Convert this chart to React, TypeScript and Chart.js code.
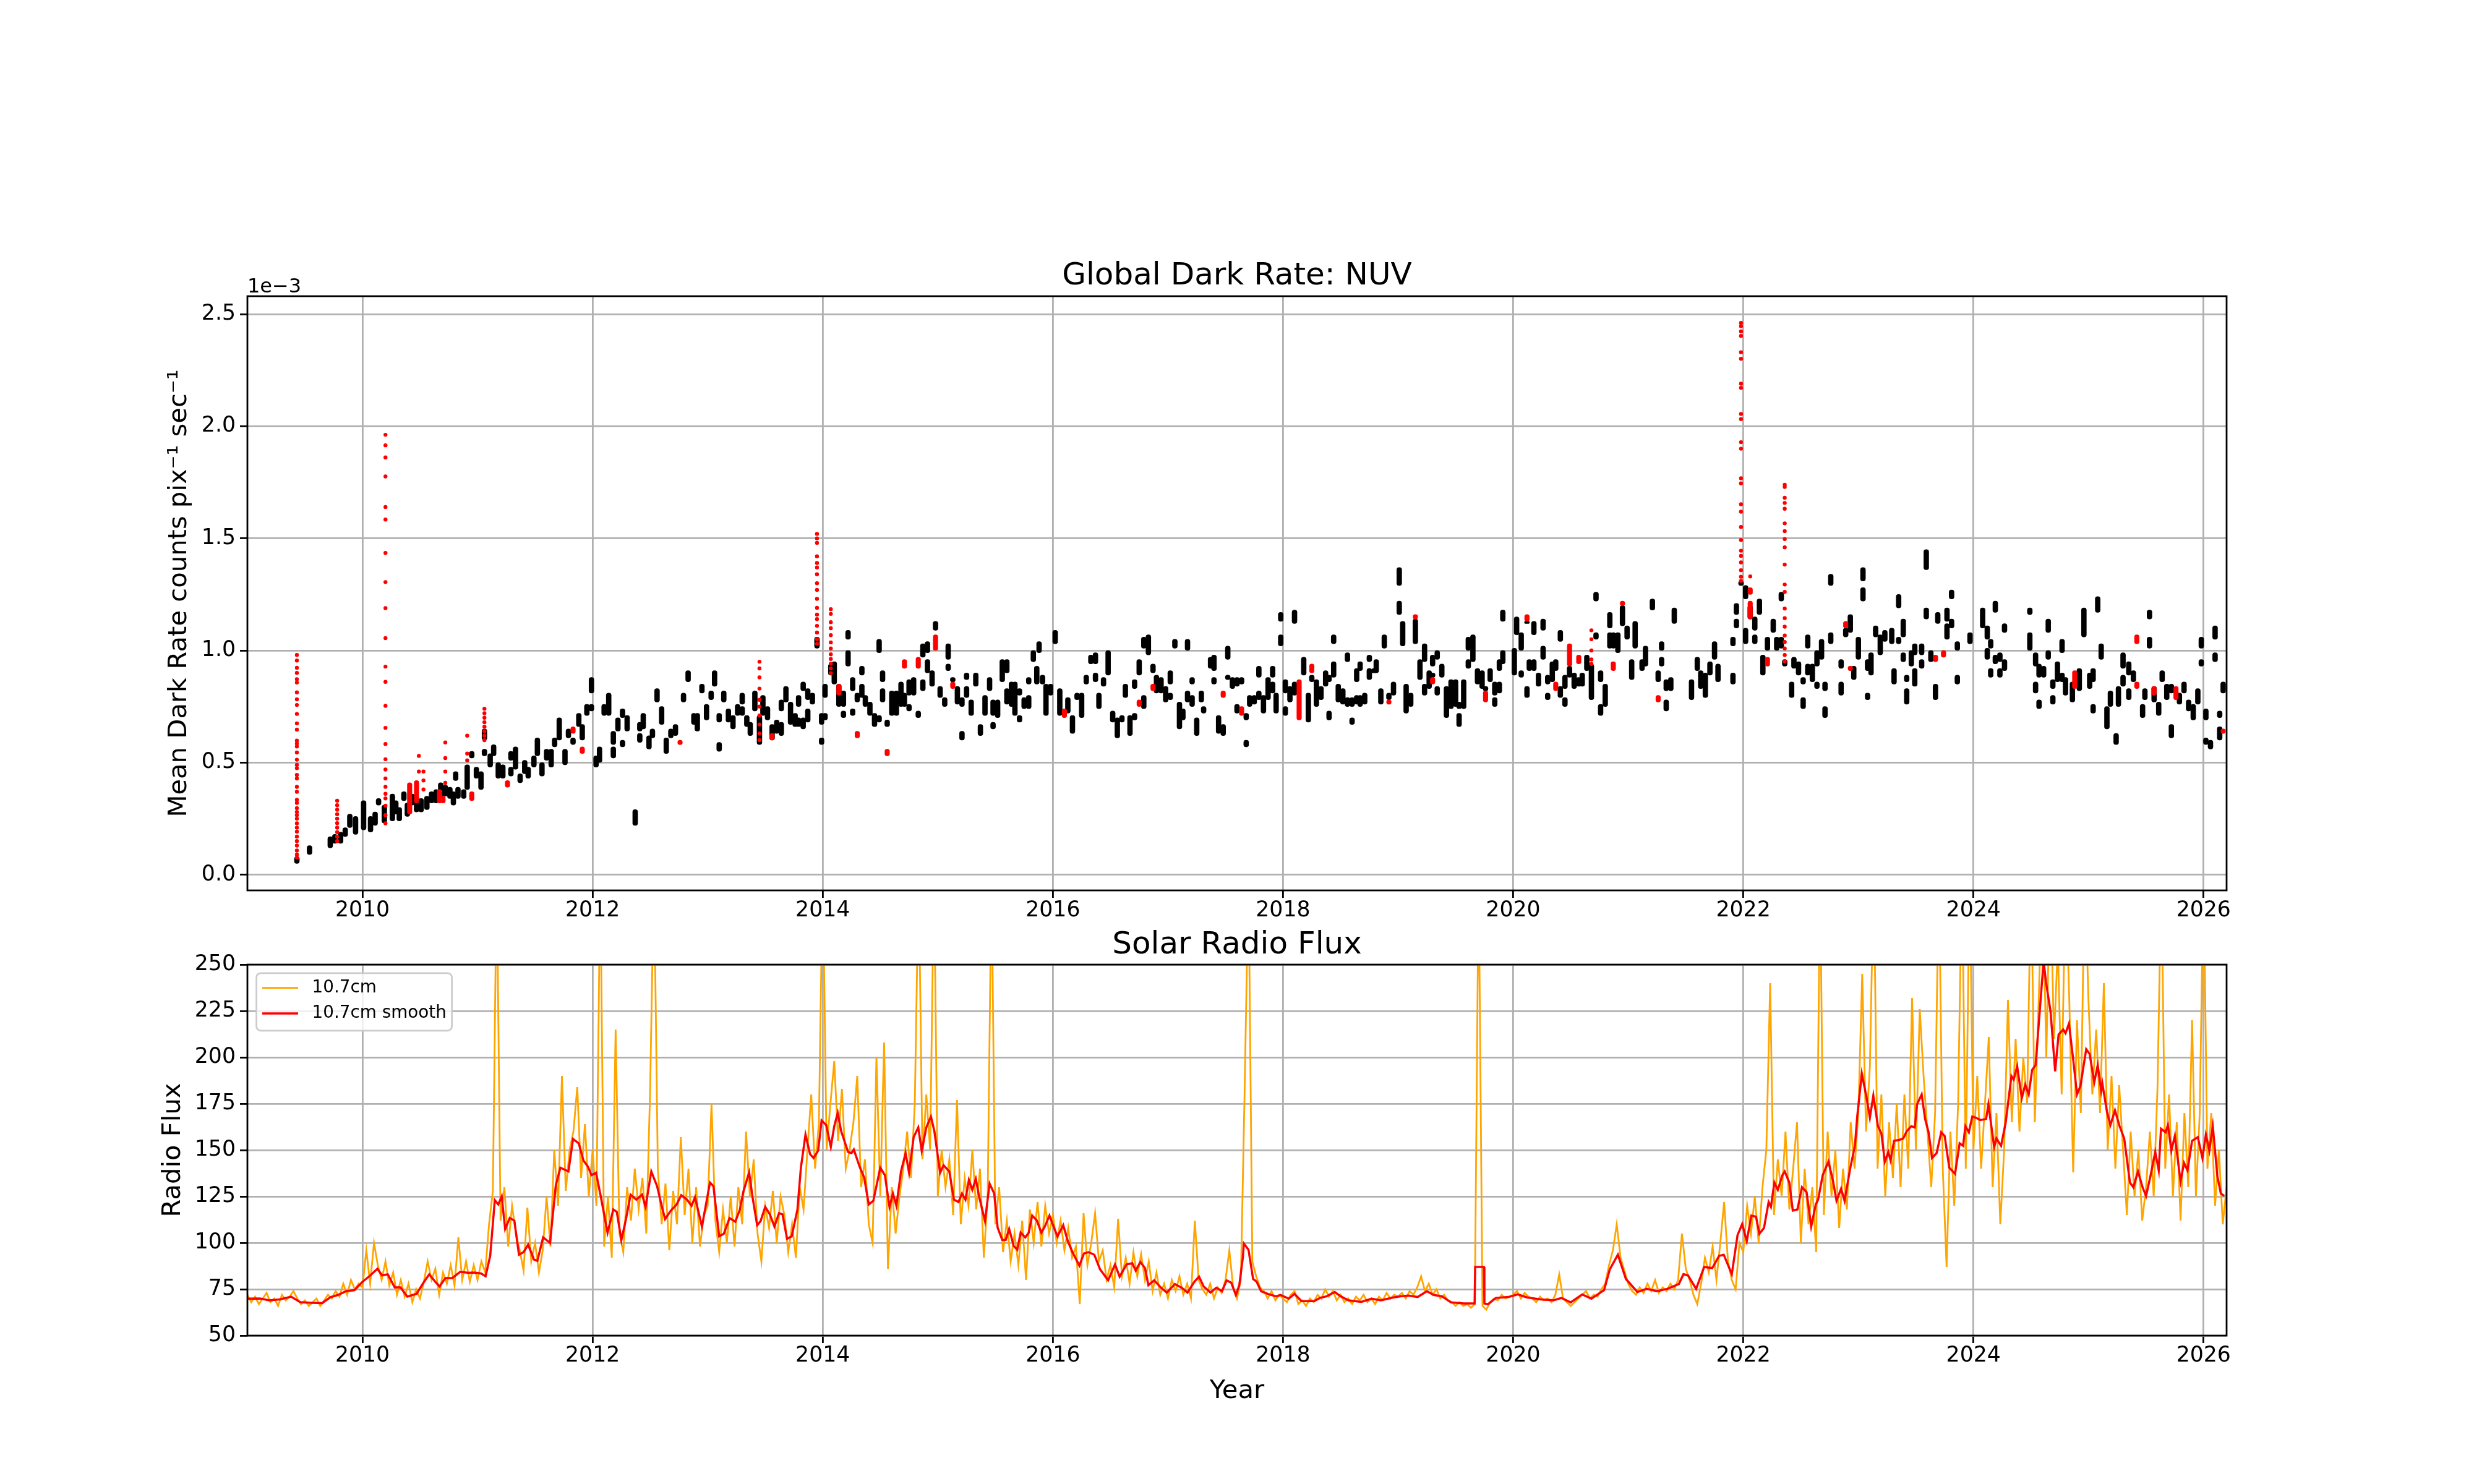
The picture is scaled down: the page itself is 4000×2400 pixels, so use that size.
import React, { useEffect, useRef } from 'react';
import { Chart, registerables } from 'chart.js';

Chart.register(...registerables);

Chart.defaults.font.family = "'DejaVu Sans', sans-serif";
Chart.defaults.color = '#000';

const yearTicks = [2010, 2012, 2014, 2016, 2018, 2020, 2022, 2024, 2026];
const darkTicks = [0, 0.5, 1.0, 1.5, 2.0, 2.5];
const fluxTicks = [50, 75, 100, 125, 150, 175, 200, 225, 250];

// dark rate in units of 1e-3: [decimal year, low, high] of each group of exposures
const darkClusters: [number, number, number][] = [
  [2009.43, 0.05, 0.08], [2009.54, 0.09, 0.13], [2009.72, 0.12, 0.17], [2009.76, 0.14, 0.18],
  [2009.81, 0.14, 0.19], [2009.85, 0.17, 0.21], [2009.89, 0.21, 0.27], [2009.94, 0.18, 0.26],
  [2010.01, 0.20, 0.33], [2010.07, 0.19, 0.26], [2010.11, 0.22, 0.28], [2010.14, 0.31, 0.34],
  [2010.19, 0.23, 0.31], [2010.26, 0.24, 0.36], [2010.29, 0.27, 0.33], [2010.32, 0.24, 0.30],
  [2010.36, 0.33, 0.37], [2010.39, 0.26, 0.32], [2010.43, 0.31, 0.36], [2010.47, 0.28, 0.35],
  [2010.51, 0.28, 0.34], [2010.56, 0.29, 0.35], [2010.60, 0.32, 0.37], [2010.64, 0.32, 0.38],
  [2010.68, 0.34, 0.41], [2010.72, 0.35, 0.40], [2010.76, 0.34, 0.39], [2010.79, 0.31, 0.37],
  [2010.81, 0.42, 0.46], [2010.83, 0.34, 0.39], [2010.88, 0.34, 0.38], [2010.91, 0.38, 0.49],
  [2010.95, 0.52, 0.55], [2010.99, 0.43, 0.48], [2011.03, 0.38, 0.46], [2011.06, 0.60, 0.65],
  [2011.06, 0.53, 0.56], [2011.11, 0.48, 0.54], [2011.14, 0.53, 0.58], [2011.18, 0.43, 0.50],
  [2011.22, 0.43, 0.49], [2011.29, 0.51, 0.55], [2011.29, 0.44, 0.48], [2011.33, 0.47, 0.57],
  [2011.37, 0.41, 0.45], [2011.41, 0.45, 0.51], [2011.44, 0.43, 0.48], [2011.49, 0.48, 0.53],
  [2011.52, 0.53, 0.61], [2011.56, 0.44, 0.50], [2011.60, 0.51, 0.56], [2011.64, 0.48, 0.56],
  [2011.67, 0.57, 0.61], [2011.71, 0.60, 0.70], [2011.76, 0.49, 0.56], [2011.79, 0.61, 0.65],
  [2011.83, 0.58, 0.61], [2011.88, 0.66, 0.72], [2011.91, 0.60, 0.67], [2011.95, 0.71, 0.76],
  [2011.99, 0.81, 0.88], [2011.99, 0.73, 0.76], [2012.03, 0.48, 0.53], [2012.06, 0.50, 0.57],
  [2012.10, 0.71, 0.76], [2012.14, 0.71, 0.81], [2012.18, 0.58, 0.64], [2012.18, 0.52, 0.57],
  [2012.22, 0.64, 0.70], [2012.26, 0.70, 0.74], [2012.26, 0.57, 0.60], [2012.30, 0.64, 0.71],
  [2012.37, 0.22, 0.29], [2012.41, 0.64, 0.68], [2012.41, 0.59, 0.63], [2012.44, 0.65, 0.72],
  [2012.49, 0.56, 0.62], [2012.52, 0.61, 0.65], [2012.56, 0.77, 0.83], [2012.60, 0.67, 0.75],
  [2012.64, 0.54, 0.61], [2012.68, 0.61, 0.65], [2012.72, 0.62, 0.67], [2012.79, 0.77, 0.81],
  [2012.83, 0.86, 0.91], [2012.88, 0.67, 0.72], [2012.91, 0.64, 0.72], [2012.95, 0.81, 0.85],
  [2012.99, 0.69, 0.76], [2013.03, 0.78, 0.82], [2013.06, 0.84, 0.91], [2013.10, 0.55, 0.59],
  [2013.10, 0.68, 0.72], [2013.14, 0.77, 0.82], [2013.18, 0.68, 0.74], [2013.22, 0.65, 0.71],
  [2013.26, 0.71, 0.76], [2013.30, 0.76, 0.81], [2013.30, 0.71, 0.75], [2013.34, 0.66, 0.71],
  [2013.37, 0.62, 0.68], [2013.41, 0.73, 0.82], [2013.45, 0.58, 0.71], [2013.48, 0.71, 0.80],
  [2013.52, 0.69, 0.75], [2013.56, 0.60, 0.67], [2013.60, 0.63, 0.69], [2013.64, 0.73, 0.78],
  [2013.64, 0.62, 0.68], [2013.68, 0.77, 0.84], [2013.72, 0.67, 0.77], [2013.76, 0.66, 0.72],
  [2013.79, 0.75, 0.80], [2013.79, 0.66, 0.70], [2013.83, 0.82, 0.86], [2013.83, 0.65, 0.70],
  [2013.87, 0.78, 0.83], [2013.87, 0.68, 0.74], [2013.91, 0.76, 0.81], [2013.95, 1.01, 1.06],
  [2013.99, 0.67, 0.72], [2013.99, 0.58, 0.61], [2014.02, 0.79, 0.85], [2014.02, 0.69, 0.72],
  [2014.07, 0.89, 0.94], [2014.10, 0.85, 0.95], [2014.14, 0.75, 0.85], [2014.18, 0.75, 0.82],
  [2014.18, 0.70, 0.73], [2014.22, 1.05, 1.09], [2014.22, 0.93, 1.00], [2014.26, 0.82, 0.88],
  [2014.26, 0.71, 0.74], [2014.30, 0.77, 0.81], [2014.34, 0.89, 0.93], [2014.34, 0.79, 0.85],
  [2014.37, 0.75, 0.80], [2014.41, 0.71, 0.77], [2014.45, 0.66, 0.72], [2014.49, 0.68, 0.71],
  [2014.49, 0.99, 1.05], [2014.52, 0.86, 0.91], [2014.52, 0.77, 0.83], [2014.56, 0.66, 0.69],
  [2014.60, 0.71, 0.82], [2014.64, 0.71, 0.82], [2014.68, 0.75, 0.86], [2014.71, 0.75, 0.81],
  [2014.75, 0.80, 0.87], [2014.75, 0.73, 0.76], [2014.79, 0.80, 0.88], [2014.83, 0.70, 0.73],
  [2014.87, 0.97, 1.03], [2014.87, 0.82, 0.87], [2014.91, 0.99, 1.04], [2014.91, 0.90, 0.96],
  [2014.95, 0.84, 0.91], [2014.98, 1.09, 1.13], [2015.02, 0.79, 0.84], [2015.06, 0.75, 0.79],
  [2015.09, 0.96, 1.03], [2015.09, 0.91, 0.94], [2015.13, 0.86, 0.88], [2015.17, 0.76, 0.84],
  [2015.21, 0.75, 0.79], [2015.21, 0.60, 0.64], [2015.25, 0.87, 0.90], [2015.25, 0.79, 0.84],
  [2015.29, 0.71, 0.78], [2015.33, 0.84, 0.90], [2015.37, 0.62, 0.67], [2015.41, 0.71, 0.80],
  [2015.45, 0.82, 0.88], [2015.48, 0.71, 0.78], [2015.48, 0.65, 0.68], [2015.52, 0.70, 0.78],
  [2015.56, 0.86, 0.96], [2015.60, 0.90, 0.96], [2015.60, 0.76, 0.83], [2015.64, 0.75, 0.86],
  [2015.67, 0.71, 0.86], [2015.71, 0.80, 0.83], [2015.71, 0.68, 0.71], [2015.75, 0.74, 0.79],
  [2015.79, 0.85, 0.88], [2015.79, 0.74, 0.80], [2015.83, 0.95, 1.00], [2015.86, 0.85, 0.93],
  [2015.88, 0.99, 1.04], [2015.91, 0.85, 0.89], [2015.94, 0.71, 0.85], [2015.98, 0.80, 0.85],
  [2016.02, 1.03, 1.09], [2016.06, 0.71, 0.83], [2016.13, 0.72, 0.79], [2016.17, 0.63, 0.71],
  [2016.21, 0.78, 0.81], [2016.25, 0.70, 0.81], [2016.29, 0.85, 0.89], [2016.33, 0.94, 0.98],
  [2016.37, 0.94, 0.99], [2016.37, 0.86, 0.90], [2016.40, 0.74, 0.81], [2016.44, 0.84, 0.88],
  [2016.48, 0.89, 1.00], [2016.52, 0.68, 0.73], [2016.56, 0.61, 0.70], [2016.60, 0.68, 0.71],
  [2016.63, 0.79, 0.85], [2016.67, 0.62, 0.71], [2016.71, 0.83, 0.87], [2016.71, 0.69, 0.72],
  [2016.75, 0.89, 0.96], [2016.79, 1.01, 1.06], [2016.79, 0.74, 0.80], [2016.83, 0.98, 1.07],
  [2016.87, 0.90, 0.94], [2016.90, 0.81, 0.89], [2016.94, 0.81, 0.88], [2016.98, 0.77, 0.84],
  [2017.02, 0.85, 0.91], [2017.02, 0.78, 0.81], [2017.06, 1.01, 1.05], [2017.10, 0.65, 0.77],
  [2017.13, 0.69, 0.74], [2017.17, 1.00, 1.05], [2017.17, 0.77, 0.82], [2017.21, 0.85, 0.88],
  [2017.21, 0.75, 0.80], [2017.25, 0.62, 0.70], [2017.29, 0.77, 0.82], [2017.31, 0.72, 0.75],
  [2017.37, 0.92, 0.97], [2017.40, 0.91, 0.98], [2017.40, 0.85, 0.88], [2017.44, 0.63, 0.71],
  [2017.48, 0.62, 0.67], [2017.52, 0.96, 1.02], [2017.52, 0.87, 0.89], [2017.56, 0.83, 0.88],
  [2017.60, 0.84, 0.88], [2017.60, 0.72, 0.76], [2017.64, 0.85, 0.88], [2017.68, 0.69, 0.72],
  [2017.68, 0.57, 0.60], [2017.71, 0.75, 0.80], [2017.75, 0.76, 0.80], [2017.79, 0.88, 0.93],
  [2017.79, 0.78, 0.82], [2017.83, 0.72, 0.80], [2017.87, 0.78, 0.88], [2017.91, 0.88, 0.93],
  [2017.91, 0.81, 0.86], [2017.94, 0.72, 0.81], [2017.98, 1.13, 1.17], [2017.98, 1.02, 1.07],
  [2018.02, 0.81, 0.87], [2018.02, 0.71, 0.75], [2018.06, 0.77, 0.84], [2018.10, 1.12, 1.18],
  [2018.10, 0.80, 0.86], [2018.18, 0.89, 0.97], [2018.22, 0.68, 0.81], [2018.25, 0.86, 0.89],
  [2018.29, 0.75, 0.87], [2018.33, 0.78, 0.84], [2018.37, 0.84, 0.91], [2018.40, 0.69, 0.73],
  [2018.40, 0.86, 0.89], [2018.44, 1.03, 1.07], [2018.44, 0.88, 0.95], [2018.48, 0.77, 0.85],
  [2018.52, 0.76, 0.83], [2018.56, 0.95, 0.99], [2018.56, 0.75, 0.79], [2018.60, 0.67, 0.70],
  [2018.60, 0.75, 0.79], [2018.64, 0.86, 0.92], [2018.64, 0.76, 0.80], [2018.67, 0.91, 0.95],
  [2018.67, 0.75, 0.80], [2018.71, 0.76, 0.81], [2018.75, 0.95, 0.98], [2018.75, 0.87, 0.92],
  [2018.79, 0.90, 0.92], [2018.81, 0.90, 0.96], [2018.85, 0.76, 0.83], [2018.88, 1.01, 1.07],
  [2018.92, 0.78, 0.81], [2018.96, 0.80, 0.86], [2019.01, 1.29, 1.37], [2019.01, 1.16, 1.22],
  [2019.04, 1.02, 1.13], [2019.07, 0.72, 0.85], [2019.11, 0.75, 0.81], [2019.15, 1.03, 1.14],
  [2019.19, 0.87, 0.96], [2019.23, 0.95, 1.03], [2019.23, 0.80, 0.85], [2019.27, 0.83, 0.91],
  [2019.30, 0.93, 0.98], [2019.30, 0.88, 0.90], [2019.34, 0.96, 1.00], [2019.34, 0.80, 0.84],
  [2019.38, 0.88, 0.94], [2019.42, 0.70, 0.84], [2019.46, 0.74, 0.87], [2019.50, 0.75, 0.87],
  [2019.53, 0.66, 0.72], [2019.53, 0.74, 0.77], [2019.57, 0.74, 0.87], [2019.61, 1.00, 1.06],
  [2019.61, 0.92, 0.96], [2019.65, 0.95, 1.07], [2019.69, 0.85, 0.92], [2019.73, 0.83, 0.91],
  [2019.76, 0.82, 0.84], [2019.80, 0.86, 0.92], [2019.84, 0.75, 0.79], [2019.84, 0.80, 0.86],
  [2019.88, 0.81, 0.86], [2019.88, 0.91, 0.96], [2019.91, 1.13, 1.18], [2019.91, 0.94, 1.00],
  [2020.01, 0.89, 1.01], [2020.03, 1.07, 1.15], [2020.07, 1.00, 1.08], [2020.07, 0.88, 0.91],
  [2020.12, 1.12, 1.13], [2020.12, 0.79, 0.84], [2020.14, 0.91, 0.96], [2020.18, 1.07, 1.13],
  [2020.18, 0.91, 0.96], [2020.22, 0.84, 0.90], [2020.26, 1.09, 1.14], [2020.26, 0.96, 1.02],
  [2020.30, 0.85, 0.89], [2020.30, 0.78, 0.81], [2020.34, 0.86, 0.95], [2020.37, 0.91, 0.96],
  [2020.41, 1.04, 1.09], [2020.41, 0.79, 0.84], [2020.45, 0.83, 0.89], [2020.45, 0.75, 0.79],
  [2020.49, 0.88, 0.93], [2020.53, 0.83, 0.90], [2020.57, 0.84, 0.88], [2020.60, 0.84, 0.90],
  [2020.64, 0.91, 0.98], [2020.68, 0.78, 0.94], [2020.72, 1.05, 1.08], [2020.72, 1.22, 1.26],
  [2020.76, 0.86, 0.91], [2020.76, 0.71, 0.76], [2020.80, 0.75, 0.85], [2020.84, 1.10, 1.17],
  [2020.84, 1.01, 1.08], [2020.87, 1.01, 1.08], [2020.91, 0.99, 1.08], [2020.95, 1.11, 1.20],
  [2020.99, 1.05, 1.11], [2021.03, 0.87, 0.96], [2021.06, 1.01, 1.13], [2021.12, 0.91, 0.96],
  [2021.15, 0.93, 1.02], [2021.21, 1.18, 1.23], [2021.26, 0.86, 0.91], [2021.29, 1.00, 1.04],
  [2021.29, 0.93, 0.97], [2021.33, 0.73, 0.78], [2021.33, 0.82, 0.87], [2021.37, 0.82, 0.88],
  [2021.40, 1.12, 1.19], [2021.55, 0.78, 0.87], [2021.60, 0.91, 0.97], [2021.63, 0.83, 0.91],
  [2021.67, 0.79, 0.90], [2021.71, 0.89, 0.95], [2021.75, 0.96, 1.04], [2021.78, 0.86, 0.94],
  [2021.91, 1.02, 1.06], [2021.91, 0.85, 0.90], [2021.94, 1.16, 1.21], [2021.94, 1.10, 1.14],
  [2021.98, 1.29, 1.31], [2022.02, 1.23, 1.29], [2022.02, 1.03, 1.10], [2022.06, 1.14, 1.20],
  [2022.10, 1.09, 1.15], [2022.10, 1.03, 1.07], [2022.14, 1.16, 1.23], [2022.17, 0.89, 0.98],
  [2022.21, 1.00, 1.06], [2022.26, 1.08, 1.14], [2022.29, 1.00, 1.06], [2022.33, 1.22, 1.26],
  [2022.33, 1.01, 1.06], [2022.36, 0.93, 0.96], [2022.42, 0.79, 0.86], [2022.44, 0.92, 0.97],
  [2022.48, 0.89, 0.95], [2022.52, 0.85, 0.88], [2022.52, 0.74, 0.79], [2022.56, 1.01, 1.07],
  [2022.56, 0.89, 0.94], [2022.60, 0.86, 0.94], [2022.64, 0.83, 0.86], [2022.64, 0.93, 1.00],
  [2022.68, 0.96, 1.05], [2022.71, 0.82, 0.86], [2022.71, 0.70, 0.75], [2022.76, 1.29, 1.34],
  [2022.76, 1.03, 1.08], [2022.85, 0.92, 0.96], [2022.85, 0.80, 0.86], [2022.89, 1.06, 1.10],
  [2022.93, 1.08, 1.16], [2022.96, 0.87, 0.93], [2023.00, 0.96, 1.06], [2023.04, 1.31, 1.37],
  [2023.04, 1.22, 1.28], [2023.08, 0.91, 0.96], [2023.08, 0.78, 0.81], [2023.11, 0.89, 0.99],
  [2023.15, 1.06, 1.11], [2023.19, 0.98, 1.07], [2023.23, 1.04, 1.09], [2023.29, 1.03, 1.10],
  [2023.31, 0.85, 0.92], [2023.35, 1.19, 1.25], [2023.35, 1.03, 1.06], [2023.39, 1.06, 1.14],
  [2023.39, 0.95, 0.99], [2023.42, 0.86, 0.89], [2023.42, 0.76, 0.83], [2023.46, 0.93, 1.00],
  [2023.49, 0.98, 1.03], [2023.49, 0.84, 0.92], [2023.55, 0.98, 1.03], [2023.55, 0.92, 0.96],
  [2023.59, 1.36, 1.45], [2023.59, 1.14, 1.19], [2023.63, 0.95, 1.00], [2023.67, 0.78, 0.85],
  [2023.69, 1.12, 1.17], [2023.77, 1.13, 1.19], [2023.77, 1.05, 1.12], [2023.81, 1.23, 1.27],
  [2023.81, 1.10, 1.14], [2023.86, 1.00, 1.04], [2023.86, 0.85, 0.89], [2023.97, 1.03, 1.08],
  [2024.08, 1.10, 1.19], [2024.12, 1.05, 1.11], [2024.12, 0.96, 1.01], [2024.15, 1.01, 1.05],
  [2024.15, 0.88, 0.92], [2024.19, 1.17, 1.22], [2024.19, 0.94, 0.98], [2024.23, 0.95, 0.99],
  [2024.23, 0.88, 0.92], [2024.27, 1.08, 1.12], [2024.27, 0.91, 0.96], [2024.49, 1.16, 1.19],
  [2024.49, 1.00, 1.08], [2024.54, 0.93, 0.99], [2024.54, 0.81, 0.86], [2024.57, 0.88, 0.94],
  [2024.57, 0.74, 0.78], [2024.61, 0.88, 0.93], [2024.65, 1.08, 1.14], [2024.65, 0.96, 1.00],
  [2024.69, 0.83, 0.87], [2024.69, 0.76, 0.80], [2024.73, 0.86, 0.95], [2024.77, 0.99, 1.05],
  [2024.77, 0.86, 0.90], [2024.80, 0.80, 0.88], [2024.86, 0.77, 0.86], [2024.92, 0.82, 0.92],
  [2024.96, 1.06, 1.19], [2025.01, 0.83, 0.90], [2025.04, 0.86, 0.92], [2025.04, 0.72, 0.76],
  [2025.08, 1.17, 1.24], [2025.11, 0.96, 1.03], [2025.16, 0.65, 0.75], [2025.19, 0.75, 0.82],
  [2025.24, 0.58, 0.63], [2025.26, 0.75, 0.84], [2025.30, 0.92, 0.99], [2025.30, 0.84, 0.89],
  [2025.35, 0.89, 0.95], [2025.35, 0.78, 0.83], [2025.39, 0.86, 0.91], [2025.47, 0.70, 0.76],
  [2025.49, 0.78, 0.83], [2025.53, 1.14, 1.18], [2025.53, 1.01, 1.06], [2025.57, 0.77, 0.84],
  [2025.61, 0.71, 0.77], [2025.64, 0.86, 0.91], [2025.68, 0.78, 0.85], [2025.72, 0.61, 0.67],
  [2025.72, 0.81, 0.85], [2025.79, 0.76, 0.81], [2025.83, 0.81, 0.86], [2025.87, 0.73, 0.78],
  [2025.91, 0.69, 0.76], [2025.95, 0.76, 0.83], [2025.98, 1.01, 1.06], [2025.98, 0.93, 0.96],
  [2026.02, 0.69, 0.74], [2026.02, 0.58, 0.61], [2026.06, 0.56, 0.60], [2026.10, 1.05, 1.11],
  [2026.10, 0.95, 0.99], [2026.14, 0.70, 0.73], [2026.14, 0.60, 0.66], [2026.17, 0.81, 0.86],
];

// flagged exposures drawn in red: short dense groups [year, low, high]
const redClusters: [number, number, number][] = [
  [2010.41, 0.27, 0.41], [2010.47, 0.32, 0.42], [2010.67, 0.32, 0.38], [2010.70, 0.32, 0.35],
  [2010.95, 0.33, 0.37], [2011.26, 0.39, 0.42], [2011.83, 0.63, 0.66], [2011.91, 0.54, 0.57],
  [2012.76, 0.58, 0.60], [2013.56, 0.60, 0.63], [2014.14, 0.80, 0.85], [2014.30, 0.61, 0.64],
  [2014.56, 0.53, 0.56], [2014.71, 0.92, 0.96], [2014.83, 0.92, 0.97], [2014.98, 1.00, 1.07],
  [2015.13, 0.83, 0.86], [2016.10, 0.70, 0.74], [2016.75, 0.75, 0.78], [2016.87, 0.82, 0.85],
  [2017.48, 0.79, 0.82], [2017.64, 0.71, 0.75], [2018.14, 0.69, 0.87], [2018.25, 0.90, 0.94],
  [2018.92, 0.76, 0.78], [2019.15, 1.14, 1.16], [2019.30, 0.85, 0.88], [2019.76, 0.77, 0.82],
  [2020.12, 1.13, 1.16], [2020.37, 0.82, 0.86], [2020.49, 0.93, 1.03], [2020.57, 0.94, 0.98],
  [2020.87, 0.91, 0.95], [2020.95, 1.20, 1.22], [2021.26, 0.77, 0.80], [2022.06, 1.14, 1.22],
  [2022.06, 1.25, 1.28], [2022.21, 0.93, 0.97], [2022.89, 1.10, 1.13], [2022.93, 0.91, 0.93],
  [2023.67, 0.95, 0.98], [2023.74, 0.97, 1.00], [2024.88, 0.83, 0.91], [2025.42, 1.03, 1.07],
  [2025.42, 0.83, 0.86], [2025.57, 0.80, 0.84], [2025.76, 0.78, 0.84], [2026.17, 0.63, 0.65],
];

// flagged exposures drawn in red: sparse columns of single points [year, values]
const redColumns: [number, number[]][] = [
  [2009.43, [0.98, 0.955, 0.923, 0.9, 0.872, 0.857, 0.813, 0.782, 0.757, 0.717, 0.675, 0.647, 0.598, 0.585,
    0.572, 0.545, 0.513, 0.49, 0.475, 0.445, 0.429, 0.392, 0.37, 0.334, 0.32, 0.297, 0.28, 0.266, 0.25,
    0.229, 0.21, 0.192, 0.17, 0.15, 0.13, 0.108, 0.09, 0.076]],
  [2009.78, [0.33, 0.31, 0.29, 0.27, 0.25, 0.23, 0.21, 0.19, 0.17, 0.15]],
  [2010.20, [1.962, 1.915, 1.861, 1.776, 1.64, 1.584, 1.435, 1.305, 1.189, 1.055, 0.928, 0.86, 0.753,
    0.655, 0.583, 0.515, 0.469, 0.429, 0.392, 0.361, 0.34, 0.308, 0.266, 0.229]],
  [2010.49, [0.53, 0.46]],
  [2010.53, [0.46, 0.42, 0.38]],
  [2010.72, [0.59, 0.52, 0.46, 0.41]],
  [2010.91, [0.62, 0.54, 0.51]],
  [2011.06, [0.74, 0.72, 0.7, 0.68, 0.66, 0.64, 0.62, 0.6]],
  [2013.45, [0.95, 0.92, 0.88, 0.83, 0.78, 0.75, 0.71, 0.67, 0.63, 0.6]],
  [2013.95, [1.52, 1.5, 1.48, 1.42, 1.39, 1.37, 1.34, 1.3, 1.27, 1.23, 1.19, 1.16, 1.14, 1.11, 1.08, 1.05, 1.03]],
  [2014.07, [1.184, 1.163, 1.126, 1.099, 1.068, 1.036, 1.009, 0.983, 0.962, 0.941, 0.92, 0.899]],
  [2020.68, [1.09, 1.05, 1.0, 0.96, 0.94]],
  [2021.98, [2.461, 2.446, 2.423, 2.403, 2.33, 2.301, 2.19, 2.171, 2.055, 2.032, 1.929, 1.9, 1.768, 1.745,
    1.652, 1.619, 1.551, 1.493, 1.445, 1.422, 1.393, 1.358, 1.329, 1.31]],
  [2022.06, [1.33]],
  [2022.36, [1.739, 1.729, 1.681, 1.658, 1.632, 1.567, 1.532, 1.497, 1.46, 1.383, 1.294, 1.261, 1.187,
    1.144, 1.106, 1.067, 1.038, 1.009, 0.98, 0.951]],
];

// 10.7 cm solar radio flux, 30 readings per year
const fluxYears = [2009, 2010, 2011, 2012, 2013, 2014, 2015, 2016, 2017, 2018, 2019, 2020, 2021, 2022, 2023, 2024, 2025, 2026];
const flux2009 = [72, 68, 71, 67, 70, 73, 68, 70, 66, 72, 69, 71, 74, 70, 67, 69, 66, 68, 70, 66, 69, 72, 70, 74, 71, 78, 72, 80, 75, 78];
const flux2010 = [76, 96, 78, 100, 88, 80, 90, 77, 84, 72, 80, 71, 78, 68, 75, 70, 79, 90, 80, 86, 72, 84, 78, 88, 77, 103, 80, 90, 79, 88];
const flux2011 = [80, 90, 84, 110, 128, 300, 112, 130, 98, 120, 105, 96, 85, 119, 90, 100, 84, 96, 125, 98, 150, 120, 190, 128, 150, 160, 184, 135, 164, 125];
const flux2012 = [150, 120, 300, 98, 125, 92, 215, 105, 95, 130, 112, 140, 118, 135, 105, 183, 300, 140, 110, 132, 96, 128, 110, 157, 115, 140, 100, 130, 98, 115];
const flux2013 = [120, 175, 112, 95, 118, 100, 125, 98, 130, 110, 160, 125, 145, 105, 90, 120, 108, 128, 100, 125, 115, 95, 110, 92, 130, 118, 150, 180, 140, 165];
const flux2014 = [300, 150, 175, 198, 155, 183, 140, 150, 165, 190, 130, 145, 110, 100, 200, 125, 208, 86, 130, 105, 125, 140, 160, 135, 175, 300, 145, 180, 150, 300];
const flux2015 = [125, 150, 130, 145, 115, 177, 110, 135, 120, 150, 118, 140, 92, 125, 300, 110, 130, 95, 112, 90, 105, 88, 112, 80, 118, 100, 122, 98, 120, 105];
const flux2016 = [115, 100, 112, 96, 108, 92, 98, 67, 116, 88, 100, 116, 90, 96, 80, 88, 76, 113, 82, 92, 78, 95, 82, 94, 80, 90, 74, 84, 72, 78];
const flux2017 = [70, 80, 74, 82, 72, 78, 70, 112, 80, 75, 72, 78, 70, 76, 73, 80, 96, 76, 70, 80, 183, 300, 90, 82, 76, 74, 70, 74, 69, 72];
const flux2018 = [70, 68, 72, 74, 67, 69, 66, 70, 68, 72, 70, 75, 71, 74, 69, 72, 68, 70, 67, 71, 69, 72, 68, 70, 67, 71, 69, 73, 70, 72];
const flux2019 = [71, 73, 70, 74, 72, 76, 82, 74, 78, 72, 75, 70, 72, 69, 68, 66, 68, 66, 67, 65, 67, 300, 66, 64, 68, 70, 69, 72, 70, 71];
const flux2020 = [72, 74, 70, 73, 71, 70, 68, 71, 69, 70, 68, 72, 83, 70, 68, 66, 68, 70, 72, 74, 70, 72, 71, 75, 78, 88, 96, 110, 92, 85];
const flux2021 = [78, 74, 72, 76, 73, 78, 74, 80, 73, 76, 74, 78, 75, 80, 105, 86, 80, 72, 67, 78, 92, 84, 98, 80, 100, 122, 90, 80, 75, 100];
const flux2022 = [95, 120, 105, 125, 100, 130, 150, 240, 115, 145, 125, 160, 118, 140, 165, 100, 140, 110, 130, 95, 300, 115, 160, 125, 150, 108, 140, 118, 165, 140];
const flux2023 = [170, 245, 160, 195, 300, 140, 180, 125, 165, 135, 175, 130, 180, 140, 232, 150, 226, 190, 160, 130, 170, 300, 140, 87, 160, 120, 175, 300, 140, 300];
const flux2024 = [150, 190, 140, 175, 211, 130, 170, 110, 150, 231, 165, 210, 160, 200, 175, 300, 165, 230, 300, 200, 300, 210, 260, 180, 300, 230, 138, 220, 170, 300];
const flux2025 = [230, 180, 215, 170, 240, 150, 190, 140, 185, 150, 115, 160, 125, 150, 112, 130, 160, 125, 185, 300, 140, 180, 125, 165, 112, 170, 130, 220, 125, 170];
const flux2026 = [300, 140, 170, 120, 150, 110, 130];
const fluxRows = [flux2009, flux2010, flux2011, flux2012, flux2013, flux2014, flux2015, flux2016, flux2017,
  flux2018, flux2019, flux2020, flux2021, flux2022, flux2023, flux2024, flux2025, flux2026];

// smoothed flux: [year, value]
const smoothFlux: [number, number][] = [
  [2009.00, 69.9], [2009.11, 70], [2009.19, 69], [2009.28, 69.5], [2009.38, 71], [2009.46, 68], [2009.56, 67.7],
  [2009.65, 67.5], [2009.72, 70.6], [2009.79, 72], [2009.86, 74], [2009.93, 74.5], [2010.00, 79], [2010.06, 82],
  [2010.13, 86], [2010.17, 82.5], [2010.22, 83], [2010.28, 76], [2010.33, 76], [2010.39, 71], [2010.47, 72.5],
  [2010.53, 78.5], [2010.58, 83], [2010.64, 78.5], [2010.67, 76.5], [2010.72, 81], [2010.78, 81], [2010.85, 84.4],
  [2010.92, 83.8], [2010.97, 84], [2011.03, 83.5], [2011.07, 82], [2011.11, 93], [2011.15, 123], [2011.18, 120.7],
  [2011.21, 125], [2011.24, 107.5], [2011.28, 113.4], [2011.32, 112], [2011.36, 93.6], [2011.40, 95], [2011.44, 99],
  [2011.49, 91], [2011.52, 90.3], [2011.57, 103], [2011.63, 100], [2011.68, 131], [2011.72, 140.5], [2011.79, 138.5],
  [2011.83, 156], [2011.88, 153.6], [2011.92, 144.4], [2011.96, 141], [2011.99, 136.5], [2012.03, 137.8],
  [2012.07, 125.3], [2012.13, 105.5], [2012.18, 118], [2012.21, 116.7], [2012.25, 101.5], [2012.29, 112.8],
  [2012.33, 126], [2012.38, 123.3], [2012.43, 126], [2012.46, 119.4], [2012.51, 138.5], [2012.56, 130.6],
  [2012.60, 120], [2012.63, 112.8], [2012.68, 117.4], [2012.73, 120.7], [2012.77, 125.7], [2012.82, 123.3],
  [2012.86, 120], [2012.89, 124.6], [2012.95, 108.8], [2013.02, 132.5], [2013.05, 130.6], [2013.10, 103.5],
  [2013.14, 104.9], [2013.19, 113.4], [2013.24, 111.4], [2013.28, 118], [2013.31, 127.5], [2013.36, 138],
  [2013.39, 124.6], [2013.43, 109.5], [2013.46, 111.7], [2013.50, 119.4], [2013.54, 115.4], [2013.58, 108.8],
  [2013.62, 116], [2013.65, 115.4], [2013.69, 102.2], [2013.73, 103.5], [2013.78, 118], [2013.81, 140.5],
  [2013.85, 158.3], [2013.89, 147.8], [2013.92, 145.7], [2013.96, 149.7], [2013.99, 166], [2014.03, 163.5],
  [2014.07, 151.7], [2014.10, 162.9], [2014.13, 170], [2014.16, 160.2], [2014.22, 149], [2014.25, 148.4],
  [2014.27, 150.3], [2014.32, 141.1], [2014.36, 135.2], [2014.40, 120.7], [2014.44, 122.7], [2014.50, 140.5],
  [2014.54, 136.5], [2014.58, 119.4], [2014.61, 126.6], [2014.64, 120], [2014.68, 138.5], [2014.72, 148.4],
  [2014.75, 137.8], [2014.79, 157], [2014.83, 162.2], [2014.86, 149.7], [2014.90, 162.2], [2014.94, 168.1],
  [2014.97, 160.2], [2015.02, 137.8], [2015.05, 141.8], [2015.10, 138.5], [2015.14, 123.3], [2015.18, 122],
  [2015.21, 126.6], [2015.24, 123.3], [2015.27, 133.9], [2015.30, 128.6], [2015.33, 134.5], [2015.36, 124.6],
  [2015.41, 111.7], [2015.45, 131.9], [2015.49, 126.6], [2015.52, 108.1], [2015.56, 101.6], [2015.59, 101.6],
  [2015.62, 107.5], [2015.66, 98.3], [2015.69, 96.3], [2015.72, 105.5], [2015.76, 102.9], [2015.79, 105.5],
  [2015.82, 114.7], [2015.86, 112.1], [2015.90, 105.5], [2015.93, 108.8], [2015.97, 114.7], [2016.01, 108.1],
  [2016.04, 103.5], [2016.09, 109.5], [2016.13, 100.9], [2016.17, 95], [2016.23, 87.7], [2016.27, 94.3],
  [2016.31, 95], [2016.36, 93.6], [2016.41, 85.7], [2016.48, 79.8], [2016.54, 88.4], [2016.58, 81.8],
  [2016.64, 88.4], [2016.69, 89], [2016.72, 85], [2016.76, 89.7], [2016.80, 86.4], [2016.83, 77.2],
  [2016.88, 79.8], [2016.94, 75.8], [2016.99, 73.2], [2017.06, 77.8], [2017.12, 75.8], [2017.17, 73.2],
  [2017.23, 79.1], [2017.27, 81.8], [2017.31, 76.5], [2017.37, 73.2], [2017.42, 75.8], [2017.47, 73.9],
  [2017.51, 79.8], [2017.55, 78.5], [2017.59, 71.9], [2017.62, 77.2], [2017.65, 91.7], [2017.66, 99.6],
  [2017.70, 96.3], [2017.74, 80.5], [2017.77, 79.1], [2017.81, 73.9], [2017.88, 72.2], [2017.94, 71.2],
  [2017.98, 71.9], [2018.05, 69.9], [2018.10, 72.5], [2018.16, 68.6], [2018.27, 68.6], [2018.32, 70.3],
  [2018.38, 71.2], [2018.45, 73.5], [2018.50, 71.2], [2018.57, 69], [2018.68, 68.2], [2018.77, 69.9],
  [2018.85, 69], [2018.96, 70.6], [2019.02, 71.2], [2019.09, 71.6], [2019.17, 70.8], [2019.25, 73.9],
  [2019.31, 71.9], [2019.38, 71.2], [2019.46, 67.9], [2019.57, 67.3], [2019.665, 67.3], [2019.67, 87],
  [2019.745, 87], [2019.75, 67.3], [2019.78, 66.9], [2019.85, 70.3], [2019.96, 70.8], [2020.04, 72.2],
  [2020.12, 70.6], [2020.24, 69.5], [2020.35, 69], [2020.42, 70.3], [2020.50, 67.9], [2020.60, 72.2],
  [2020.68, 69.9], [2020.79, 74.5], [2020.84, 85.7], [2020.91, 93.6], [2020.98, 80.5], [2021.08, 73.5],
  [2021.16, 75.2], [2021.25, 73.9], [2021.34, 75.2], [2021.44, 77.8], [2021.48, 83.1], [2021.52, 82.4],
  [2021.59, 75.2], [2021.66, 87], [2021.73, 86.4], [2021.79, 93], [2021.83, 93.6], [2021.90, 83.1],
  [2021.95, 104.2], [2021.99, 110.1], [2022.03, 100.9], [2022.07, 114.7], [2022.11, 114.1], [2022.14, 104.9],
  [2022.18, 108.1], [2022.22, 122], [2022.24, 119.4], [2022.27, 132.5], [2022.30, 128.6], [2022.34, 136.5],
  [2022.36, 138.5], [2022.40, 132.5], [2022.43, 117.4], [2022.47, 118], [2022.51, 130], [2022.55, 127.3],
  [2022.59, 108.8], [2022.63, 120.7], [2022.65, 123.3], [2022.69, 136.5], [2022.74, 143.8], [2022.78, 133.2],
  [2022.81, 122.7], [2022.85, 129.2], [2022.88, 122.7], [2022.93, 140.5], [2022.97, 152.3], [2022.99, 168.1],
  [2023.03, 191.2], [2023.07, 178.7], [2023.10, 167.5], [2023.13, 179.4], [2023.17, 162.9], [2023.20, 158.9],
  [2023.23, 143.8], [2023.26, 149], [2023.28, 144.4], [2023.31, 155], [2023.36, 155.6], [2023.39, 156.3],
  [2023.42, 160.2], [2023.46, 162.9], [2023.49, 162.2], [2023.51, 174.7], [2023.55, 180], [2023.58, 166.8],
  [2023.61, 159.6], [2023.64, 145.7], [2023.68, 148.4], [2023.72, 159.6], [2023.75, 157.6], [2023.79, 140.5],
  [2023.84, 137.2], [2023.88, 153.7], [2023.91, 152.3], [2023.93, 162.9], [2023.96, 159.6], [2023.99, 168.1],
  [2024.02, 167.5], [2024.06, 166.2], [2024.11, 166.8], [2024.13, 174.7], [2024.18, 151.7], [2024.20, 156.3],
  [2024.24, 152.3], [2024.28, 164.8], [2024.33, 189.9], [2024.35, 188], [2024.38, 195.2], [2024.42, 178],
  [2024.45, 185.3], [2024.48, 180], [2024.51, 193.2], [2024.54, 195.8], [2024.58, 228.1], [2024.61, 252],
  [2024.63, 240.7], [2024.67, 224.8], [2024.71, 192.5], [2024.74, 212.3], [2024.78, 215], [2024.80, 213],
  [2024.83, 218.2], [2024.87, 197.2], [2024.90, 180], [2024.93, 184.6], [2024.98, 204.4], [2025.01, 201.8],
  [2025.05, 186.6], [2025.08, 195.8], [2025.11, 182], [2025.12, 186], [2025.16, 170.8], [2025.19, 163.5],
  [2025.23, 171.4], [2025.27, 162.9], [2025.31, 156.3], [2025.36, 132.5], [2025.39, 129.9], [2025.43, 138.5],
  [2025.47, 129.9], [2025.50, 125.3], [2025.54, 136.5], [2025.58, 149], [2025.61, 139.1], [2025.63, 161.5],
  [2025.67, 159.6], [2025.69, 163.5], [2025.72, 149.7], [2025.75, 157.6], [2025.80, 133.2], [2025.83, 143.1],
  [2025.86, 139.1], [2025.90, 155], [2025.95, 157], [2025.99, 145.7], [2026.02, 158.3], [2026.05, 149.7],
  [2026.08, 162.9], [2026.12, 135.8], [2026.15, 126.6], [2026.18, 125.3],
];

const TICK_FONT = 34.7;
const LABEL_FONT = 41.7;

// black box round the plotting area, like matplotlib's spines
const framePlugin = {
  id: 'frame',
  afterDraw(chart: any) {
    const { ctx, chartArea: a } = chart;
    ctx.save();
    ctx.strokeStyle = '#000';
    ctx.lineWidth = 2.8;
    ctx.strokeRect(a.left, a.top, a.right - a.left, a.bottom - a.top);
    ctx.restore();
  },
};

// the "1e-3" multiplier above the y axis
const offsetTextPlugin = {
  id: 'offsetText',
  afterDraw(chart: any) {
    const { ctx, chartArea: a } = chart;
    ctx.save();
    ctx.font = "32px 'DejaVu Sans'";
    ctx.fillStyle = '#000';
    ctx.textAlign = 'left';
    ctx.textBaseline = 'alphabetic';
    ctx.fillText('1e\u22123', a.left, a.top - 6);
    ctx.restore();
  },
};

// legend box in the upper left corner of the flux panel
const fluxLegendPlugin = {
  id: 'fluxLegend',
  afterDraw(chart: any) {
    const { ctx, chartArea: a } = chart;
    const x = a.left + 14.6;
    const y = a.top + 13.8;
    ctx.save();
    ctx.beginPath();
    ctx.roundRect(x, y, 316, 93, 7);
    ctx.fillStyle = 'rgba(255,255,255,0.8)';
    ctx.fill();
    ctx.strokeStyle = '#cccccc';
    ctx.lineWidth = 2.8;
    ctx.stroke();
    chart.data.datasets.forEach((ds: any, i: number) => {
      const ly = y + 23.8 + i * 41.4;
      ctx.beginPath();
      ctx.moveTo(x + 9.4, ly);
      ctx.lineTo(x + 67.4, ly);
      ctx.strokeStyle = ds.borderColor;
      ctx.lineWidth = ds.borderWidth;
      ctx.stroke();
      ctx.fillStyle = '#000';
      ctx.font = "27.8px 'DejaVu Sans'";
      ctx.textAlign = 'left';
      ctx.textBaseline = 'middle';
      ctx.fillText(ds.label, x + 90, ly);
    });
    ctx.restore();
  },
};

const gridStyle = { color: '#b0b0b0', lineWidth: 2.8, tickColor: '#000', tickLength: 12, tickWidth: 2.8 };

const yearAxis = (height: number, title?: any) => ({
  type: 'linear' as const,
  min: 2009.0,
  max: 2026.2,
  offset: false,
  afterBuildTicks: (s: any) => { s.ticks = yearTicks.map((v) => ({ value: v })); },
  afterFit: (s: any) => { s.height = height; },
  ticks: { font: { size: TICK_FONT }, padding: 0, maxRotation: 0, autoSkip: false, callback: (v: any) => String(v) },
  grid: { ...gridStyle, offset: false },
  border: { display: false },
  title: title ?? { display: false },
});

const App: React.FC = () => {
  const topRef = useRef<HTMLCanvasElement>(null);
  const bottomRef = useRef<HTMLCanvasElement>(null);

  useEffect(() => {
    if (!topRef.current || !bottomRef.current) return;

    const darkChart = new Chart(topRef.current, {
      type: 'scatter',
      data: {
        datasets: [
          {
            type: 'bar',
            label: 'dark rate',
            data: darkClusters.map(([x, lo, hi]) => ({ x, y: [lo, hi] })) as any,
            backgroundColor: '#000',
            barThickness: 8,
            borderRadius: 4,
            borderSkipped: false,
            grouped: false,
            order: 3,
          } as any,
          {
            type: 'bar',
            label: 'flagged',
            data: redClusters.map(([x, lo, hi]) => ({ x, y: [lo, hi] })) as any,
            backgroundColor: '#ff0000',
            barThickness: 7.5,
            borderRadius: 3.75,
            borderSkipped: false,
            grouped: false,
            order: 2,
          } as any,
          {
            type: 'scatter',
            label: 'flagged points',
            data: redColumns.flatMap(([x, vals]) => vals.map((y) => ({ x, y }))),
            backgroundColor: '#ff0000',
            borderWidth: 0,
            pointRadius: 3.2,
            order: 1,
          },
        ],
      },
      options: {
        responsive: false,
        devicePixelRatio: 1,
        animation: false,
        events: [],
        layout: { padding: { left: 0, right: 400, top: 0, bottom: 0 } },
        plugins: {
          legend: { display: false },
          tooltip: { enabled: false },
          title: {
            display: true,
            fullSize: false,
            text: 'Global Dark Rate: NUV',
            color: '#000',
            font: { size: 50, weight: 'normal' },
            padding: { top: 417, bottom: 2 },
          },
        },
        scales: {
          x: yearAxis(90) as any,
          y: {
            type: 'linear',
            min: -0.07,
            max: 2.58,
            afterBuildTicks: (s: any) => { s.ticks = darkTicks.map((v) => ({ value: v })); },
            afterFit: (s: any) => { s.width = 400; },
            ticks: { font: { size: TICK_FONT }, padding: 7, callback: (v: any) => Number(v).toFixed(1) },
            grid: gridStyle,
            border: { display: false },
            title: {
              display: true,
              text: 'Mean Dark Rate counts pix\u207B\u00B9 sec\u207B\u00B9',
              color: '#000',
              font: { size: LABEL_FONT },
              padding: { top: 265.5, bottom: 0 },
            },
          },
        },
      },
      plugins: [framePlugin, offsetTextPlugin],
    });

    const fluxPoints = fluxYears.flatMap((yr, r) => fluxRows[r].map((v, i) => ({ x: yr + i / 30, y: v })));

    const fluxChart = new Chart(bottomRef.current, {
      type: 'line',
      data: {
        datasets: [
          {
            label: '10.7cm',
            data: fluxPoints,
            borderColor: '#ffa500',
            borderWidth: 2.8,
            pointRadius: 0,
            tension: 0,
            order: 2,
          },
          {
            label: '10.7cm smooth',
            data: smoothFlux.map(([x, y]) => ({ x, y })),
            borderColor: '#ff0000',
            borderWidth: 3.5,
            pointRadius: 0,
            tension: 0,
            order: 1,
          },
        ],
      },
      options: {
        responsive: false,
        devicePixelRatio: 1,
        animation: false,
        events: [],
        layout: { padding: { left: 0, right: 400, top: 0, bottom: 0 } },
        plugins: {
          legend: { display: false },
          tooltip: { enabled: false },
          title: {
            display: true,
            fullSize: false,
            text: 'Solar Radio Flux',
            color: '#000',
            font: { size: 50, weight: 'normal' },
            padding: { top: 9, bottom: 1 },
          },
        },
        scales: {
          x: yearAxis(240, {
            display: true,
            text: 'Year',
            color: '#000',
            font: { size: LABEL_FONT },
            padding: { top: 0, bottom: 125 },
          }) as any,
          y: {
            type: 'linear',
            min: 50,
            max: 250,
            afterBuildTicks: (s: any) => { s.ticks = fluxTicks.map((v) => ({ value: v })); },
            afterFit: (s: any) => { s.width = 400; },
            ticks: { font: { size: TICK_FONT }, padding: 7, callback: (v: any) => String(v) },
            grid: gridStyle,
            border: { display: false },
            title: {
              display: true,
              text: 'Radio Flux',
              color: '#000',
              font: { size: LABEL_FONT },
              padding: { top: 255, bottom: 0 },
            },
          },
        },
      },
      plugins: [framePlugin, fluxLegendPlugin],
    });

    return () => {
      darkChart.destroy();
      fluxChart.destroy();
    };
  }, []);

  return (
    <div style={{ position: 'absolute', left: 0, top: 0, width: 4000, height: 2400, background: '#fff' }}>
      <canvas ref={topRef} width={4000} height={1530} style={{ position: 'absolute', left: 0, top: 0 }} />
      <canvas ref={bottomRef} width={4000} height={910} style={{ position: 'absolute', left: 0, top: 1490 }} />
    </div>
  );
};

export default App;
